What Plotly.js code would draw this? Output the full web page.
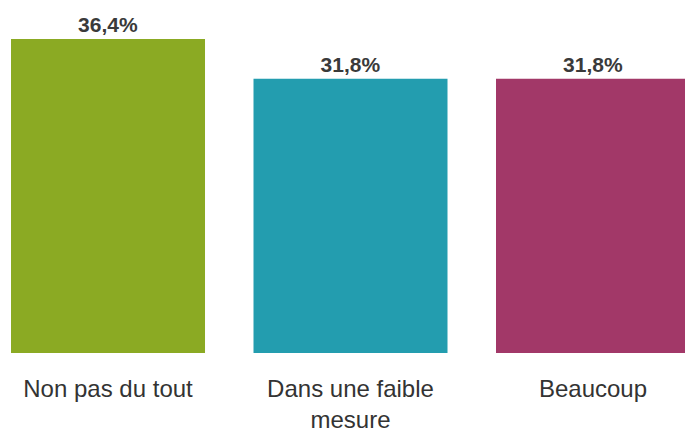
<!DOCTYPE html>
<html>
<head>
<meta charset="utf-8">
<script src="https://cdn.plot.ly/plotly-3.0.1.min.js"></script>
<style>html,body{margin:0;padding:0;background:#fff;}#chart{width:685px;height:432px;}</style>
</head>
<body>
<div id="chart"></div>
<script>
const categories = ["Non pas du tout", "Dans une faible<br>mesure", "Beaucoup"];
const values = [36.4, 31.8, 31.8];
const valueLabels = ["36,4%", "31,8%", "31,8%"];
const barColors = ["#8BAA23", "#239DAF", "#A23868"];

const trace = {
  type: "bar",
  x: categories,
  y: values,
  text: valueLabels,
  textposition: "outside",
  cliponaxis: false,
  constraintext: "none",
  textfont: {family: "Liberation Sans, Arial, sans-serif", size: 21, color: "#3a3a3a", weight: "bold"},
  marker: {color: barColors},
  hoverinfo: "none"
};

const layout = {
  width: 685, height: 432,
  margin: {l: 0, r: 0, t: 0, b: 79, pad: 0},
  paper_bgcolor: "#ffffff",
  plot_bgcolor: "#ffffff",
  bargap: 0.2,
  showlegend: false,
  xaxis: {
    range: [-0.4454, 2.3794],
    showgrid: false, zeroline: false, showline: false,
    ticks: "outside", ticklen: 14, tickcolor: "rgba(0,0,0,0)",
    tickfont: {family: "Liberation Sans, Arial, sans-serif", size: 24, color: "#333333"},
    fixedrange: true
  },
  yaxis: {
    range: [0, 40.92],
    visible: false,
    fixedrange: true
  }
};

Plotly.newPlot("chart", [trace], layout, {displayModeBar: false, staticPlot: true});
</script>
</body>
</html>
